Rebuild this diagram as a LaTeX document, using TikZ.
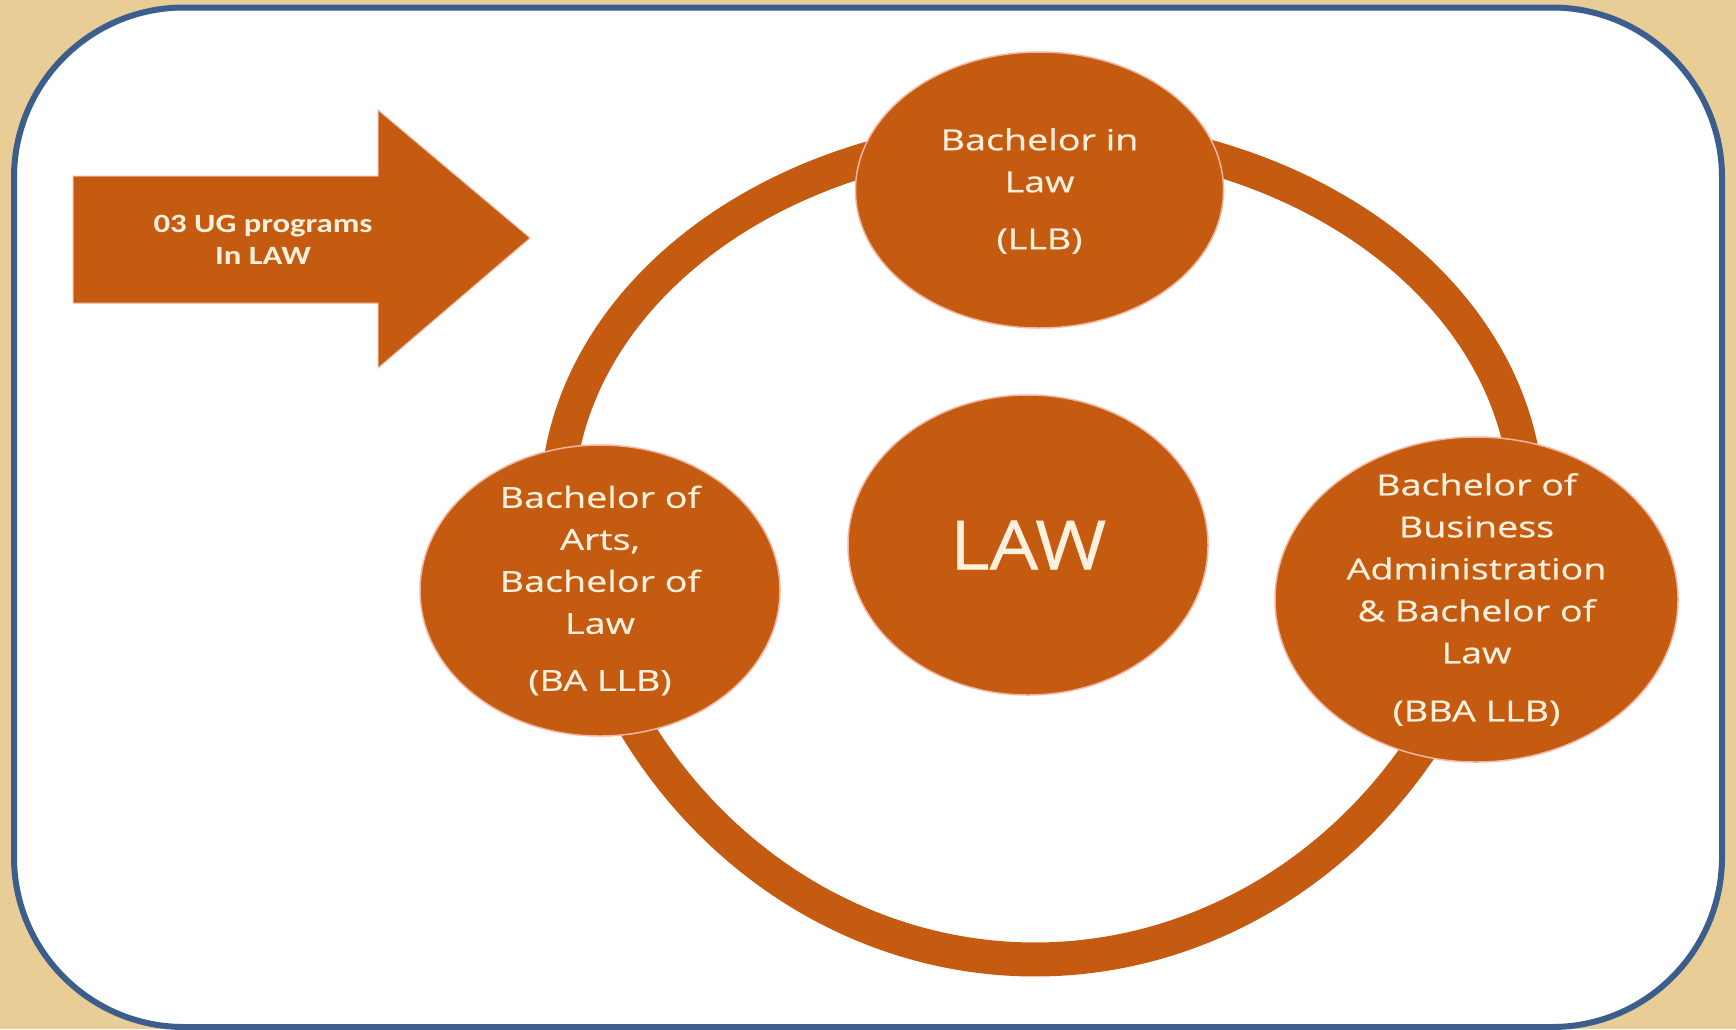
\documentclass[tikz,border=0pt]{standalone}
\usepackage{fontspec}
\usetikzlibrary{shapes.geometric}
\newfontfamily\elfont[FakeStretch=1.3,FakeBold=0.6]{Open Sans}
\newfontfamily\lawfont[FakeStretch=1.13,FakeBold=0.6]{Open Sans}
\newfontfamily\arrfont[FakeStretch=1.24]{Carlito}
\definecolor{lawor}{HTML}{C55A11}
\definecolor{cream}{HTML}{FDF0DC}
\definecolor{edgepink}{HTML}{F4B6A0}
\definecolor{parch}{HTML}{E8CD97}
\definecolor{frameblue}{HTML}{3B5E8C}
\begin{document}
\begin{tikzpicture}[x=1pt,y=-1pt,
  elshape/.style={ellipse, fill=lawor, draw=edgepink, line width=1.5pt, inner sep=0pt},
  eltext/.style={text=cream, align=center, inner sep=0pt, font=\elfont\fontsize{29pt}{42pt}\selectfont},
  ringarc/.style={draw=lawor, line width=34pt, line cap=butt}]
\useasboundingbox (0,0) rectangle (1736,1029);
\fill[parch] (0,0) rectangle (1736,1029);
\draw[frameblue, line width=6pt, fill=white, rounded corners=170pt] (14,7.5) rectangle (1722,1027);
% arrow
\filldraw[fill=lawor, draw=edgepink, line width=1pt] (73,176) -- (378,176) -- (378,110) -- (530,238) -- (378,368) -- (378,303) -- (73,303) -- cycle;
\node[text=cream, align=center, inner sep=0pt, font=\arrfont\bfseries\fontsize{26.4pt}{32pt}\selectfont] (arrtext) at (263,240) {03 UG programs\\In LAW};
% ring
\draw[ringarc] plot[smooth, samples=100, domain=180:360] ({1042+485*cos(\x)},{506+372*sin(\x)});
\draw[ringarc] plot[smooth, samples=100, domain=17.7:162.3] ({1035+478*cos(\x)},{443+516.5*sin(\x)});
% ellipses
\node[elshape, minimum width=368pt, minimum height=276pt] (llb) at (1039.5,190) {};
\node[eltext] (llbtext) at ([yshift=-1pt]llb.center) {Bachelor in\\Law\\[15pt](LLB)};
\node[elshape, minimum width=360pt, minimum height=291pt] (ballb) at (600,590.5) {};
\node[eltext] (ballbtext) at (ballb.center) {Bachelor of\\Arts,\\Bachelor of\\Law\\[15pt](BA LLB)};
\node[elshape, minimum width=403pt, minimum height=325pt] (bballb) at (1476.5,599.5) {};
\node[eltext] (bballbtext) at (bballb.center) {Bachelor of\\Business\\Administration\\\& Bachelor of\\Law\\[16pt](BBA LLB)};
\node[elshape, minimum width=360pt, minimum height=300pt, text=cream, font=\lawfont\fontsize{68pt}{72pt}\selectfont] (law) at (1028,545) {LAW};
\end{tikzpicture}
\end{document}
